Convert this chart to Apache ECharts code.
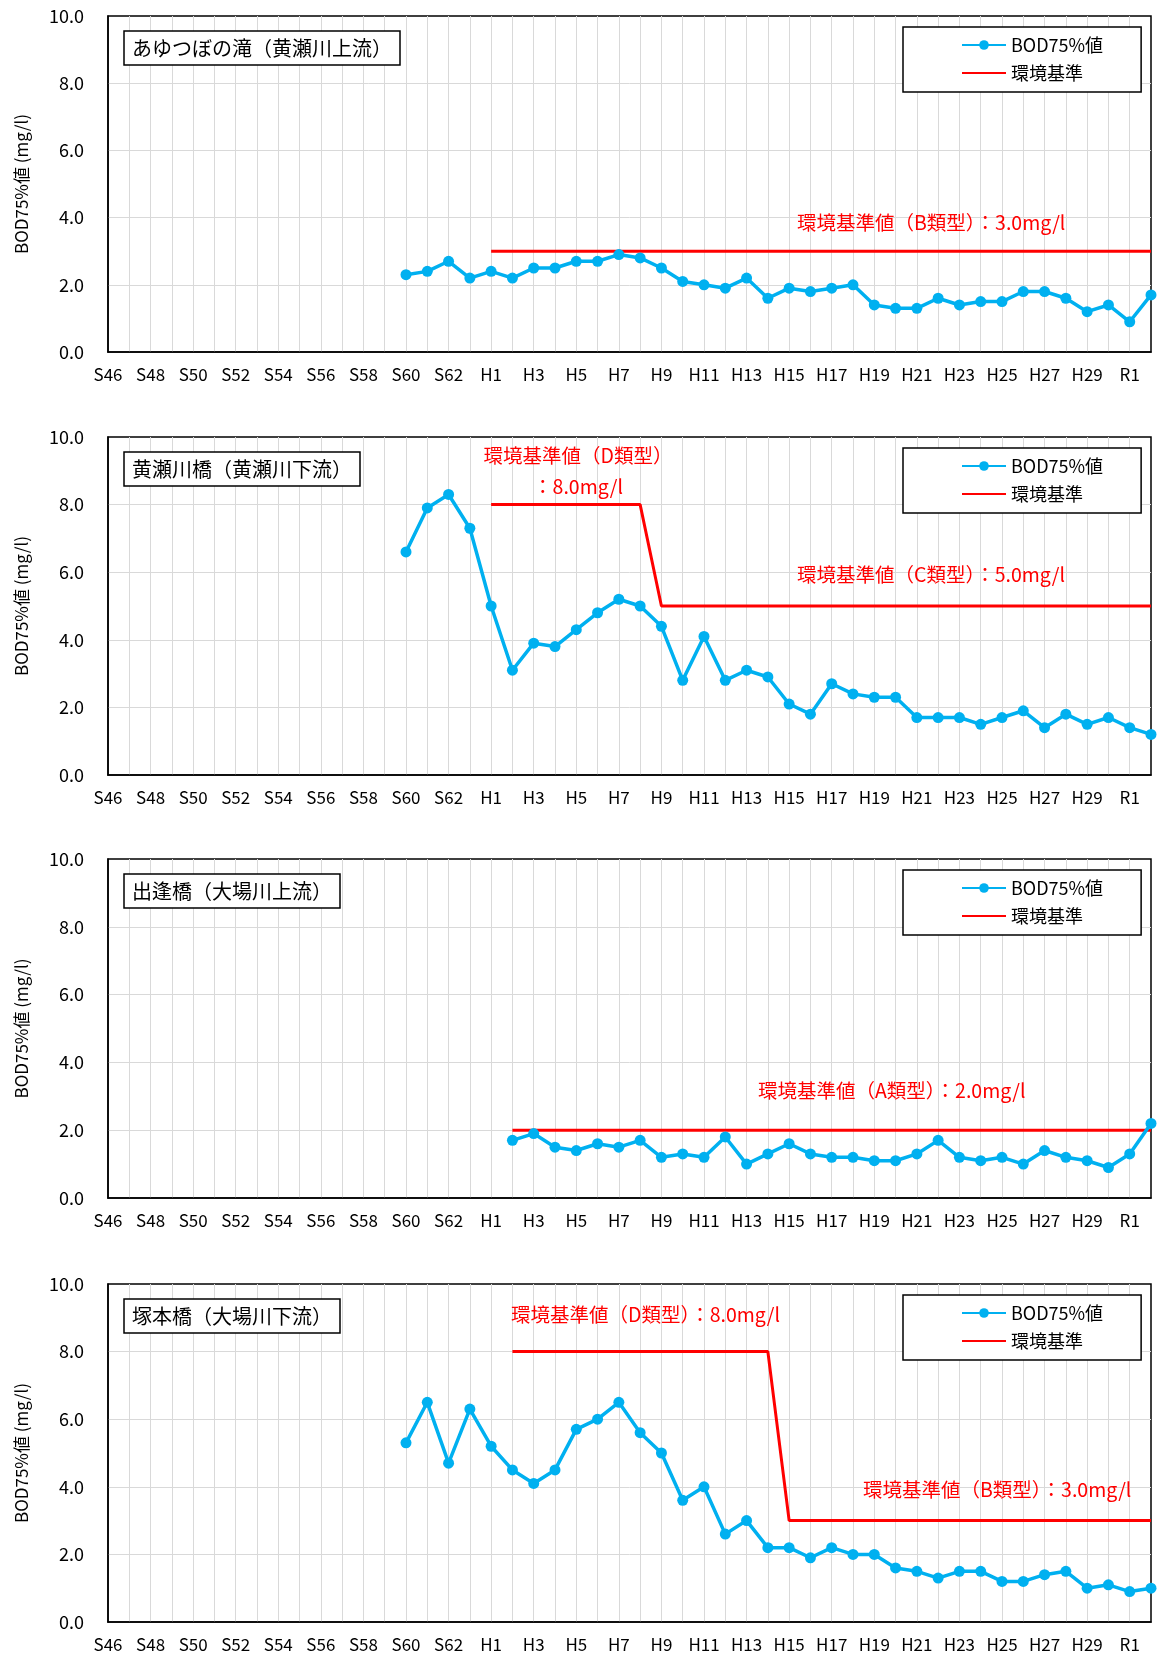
<!DOCTYPE html>
<html>
<head>
<meta charset="utf-8">
<script src="https://cdn.jsdelivr.net/npm/echarts@6/dist/echarts.min.js"></script>
<style>
  html, body { margin: 0; padding: 0; background: #fff; }
  #chart { width: 1157px; height: 1656px; }
</style>
</head>
<body>
<div id="chart"></div>
<script>
// Fiscal-year categories: Showa 46 .. Showa 63, Heisei 1 .. Heisei 30, Reiwa 1 .. Reiwa 2
const categories = [
  'S46','S47','S48','S49','S50','S51','S52','S53','S54','S55',
  'S56','S57','S58','S59','S60','S61','S62','S63',
  'H1','H2','H3','H4','H5','H6','H7','H8','H9','H10',
  'H11','H12','H13','H14','H15','H16','H17','H18','H19','H20',
  'H21','H22','H23','H24','H25','H26','H27','H28','H29','H30',
  'R1','R2'
];
const yTicks = [0, 2, 4, 6, 8, 10];

// Station names
const stationNames = [
  'あゆつぼの滝（黄瀬川上流）',
  '黄瀬川橋（黄瀬川下流）',
  '出逢橋（大場川上流）',
  '塚本橋（大場川下流）'
];

// BOD 75% values (mg/l), each list starting at its first surveyed year
const ayutsuboStart = 'S60';
const ayutsuboBod = [
  2.3, 2.4, 2.7, 2.2,
  2.4, 2.2, 2.5, 2.5, 2.7, 2.7, 2.9, 2.8, 2.5, 2.1,
  2.0, 1.9, 2.2, 1.6, 1.9, 1.8, 1.9, 2.0, 1.4, 1.3,
  1.3, 1.6, 1.4, 1.5, 1.5, 1.8, 1.8, 1.6, 1.2, 1.4,
  0.9, 1.7
];
const kisegawaStart = 'S60';
const kisegawaBod = [
  6.6, 7.9, 8.3, 7.3,
  5.0, 3.1, 3.9, 3.8, 4.3, 4.8, 5.2, 5.0, 4.4, 2.8,
  4.1, 2.8, 3.1, 2.9, 2.1, 1.8, 2.7, 2.4, 2.3, 2.3,
  1.7, 1.7, 1.7, 1.5, 1.7, 1.9, 1.4, 1.8, 1.5, 1.7,
  1.4, 1.2
];
const deaiStart = 'H2';
const deaiBod = [
  1.7, 1.9, 1.5, 1.4, 1.6, 1.5, 1.7, 1.2, 1.3,
  1.2, 1.8, 1.0, 1.3, 1.6, 1.3, 1.2, 1.2, 1.1, 1.1,
  1.3, 1.7, 1.2, 1.1, 1.2, 1.0, 1.4, 1.2, 1.1, 0.9,
  1.3, 2.2
];
const tsukamotoStart = 'S60';
const tsukamotoBod = [
  5.3, 6.5, 4.7, 6.3,
  5.2, 4.5, 4.1, 4.5, 5.7, 6.0, 6.5, 5.6, 5.0, 3.6,
  4.0, 2.6, 3.0, 2.2, 2.2, 1.9, 2.2, 2.0, 2.0, 1.6,
  1.5, 1.3, 1.5, 1.5, 1.2, 1.2, 1.4, 1.5, 1.0, 1.1,
  0.9, 1.0
];

// Environmental standard lines: [year, mg/l] vertices
const ayutsuboStd  = [['H1', 3.0], ['R2', 3.0]];
const kisegawaStd  = [['H1', 8.0], ['H8', 8.0], ['H9', 5.0], ['R2', 5.0]];
const deaiStd      = [['H2', 2.0], ['R2', 2.0]];
const tsukamotoStd = [['H2', 8.0], ['H14', 8.0], ['H15', 3.0], ['R2', 3.0]];

// Standard annotations per panel
const stdNotes = [
  [{ text: '環境基準値（B類型）：3.0mg/l', x: 797, y: 223, align: 'left' }],
  [{ text: '環境基準値（D類型）', x: 578, y: 456, align: 'center' },
   { text: '：8.0mg/l', x: 578, y: 487, align: 'center' },
   { text: '環境基準値（C類型）：5.0mg/l', x: 797, y: 575, align: 'left' }],
  [{ text: '環境基準値（A類型）：2.0mg/l', x: 758, y: 1091, align: 'left' }],
  [{ text: '環境基準値（D類型）：8.0mg/l', x: 511, y: 1315, align: 'left' },
   { text: '環境基準値（B類型）：3.0mg/l', x: 863, y: 1490, align: 'left' }]
];

const seriesName = 'BOD75%値';
const stdName = '環境基準';
const FONT = '"Noto Sans CJK JP", "Noto Sans", sans-serif';

const panels = [
  { start: ayutsuboStart,  bod: ayutsuboBod,  std: ayutsuboStd },
  { start: kisegawaStart,  bod: kisegawaBod,  std: kisegawaStd },
  { start: deaiStart,      bod: deaiBod,      std: deaiStd },
  { start: tsukamotoStart, bod: tsukamotoBod, std: tsukamotoStd }
];

// Plot-area layout
const plotLeft = 108, plotRight = 6;
const plotTops = [16, 437, 859, 1284];
const plotHeights = [336, 338, 339, 338];

const grids = [], xAxes = [], yAxes = [], series = [], legends = [], titles = [], graphics = [];

panels.forEach((p, i) => {
  const top = plotTops[i];
  grids.push({
    left: plotLeft, right: plotRight, top: top, height: plotHeights[i],
    show: true, borderColor: '#000', borderWidth: 1.5, backgroundColor: '#fff'
  });
  xAxes.push({
    type: 'category', gridIndex: i, data: categories, boundaryGap: false,
    axisLine: { show: true, lineStyle: { color: '#000', width: 1.5 } },
    axisTick: { show: false },
    axisLabel: { interval: 1, margin: 14, color: '#000', fontSize: 17, fontFamily: FONT },
    splitLine: {
      show: true,
      interval: (idx) => idx > 0 && idx < categories.length - 1,
      lineStyle: { color: '#D9D9D9', width: 1 }
    }
  });
  yAxes.push({
    type: 'value', gridIndex: i, min: yTicks[0], max: yTicks[yTicks.length - 1], interval: 2,
    name: 'BOD75%値 (mg/l)', nameLocation: 'middle', nameGap: 78, nameRotate: 90,
    nameTextStyle: { color: '#000', fontSize: 17, fontFamily: FONT },
    axisLine: { show: true, lineStyle: { color: '#000', width: 1.5 } },
    axisTick: { show: false },
    axisLabel: { margin: 24, color: '#000', fontSize: 18, fontFamily: FONT,
      formatter: (v) => v.toFixed(1) },
    splitLine: { show: true, showMinLine: false, showMaxLine: false,
      lineStyle: { color: '#D9D9D9', width: 1 } }
  });
  const startIdx = categories.indexOf(p.start);
  series.push({
    type: 'line', name: stdName, xAxisIndex: i, yAxisIndex: i,
    data: p.std, symbol: 'none', silent: true, z: 2,
    lineStyle: { color: '#FF0000', width: 3 }, itemStyle: { color: '#FF0000' }
  });
  series.push({
    type: 'line', name: seriesName, xAxisIndex: i, yAxisIndex: i,
    data: p.bod.map((v, k) => [categories[startIdx + k], v]),
    symbol: 'circle', symbolSize: 11, z: 3,
    lineStyle: { color: '#00B0F0', width: 3.5 }, itemStyle: { color: '#00B0F0' }
  });
  legends.push({
    data: [
      { name: seriesName },
      { name: stdName, itemStyle: { opacity: 0 } }
    ],
    orient: 'vertical',
    left: 903, top: top + 11,
    padding: [8, 38, 9, 58], itemWidth: 44, itemHeight: 12, itemGap: 8,
    borderColor: '#000', borderWidth: 1.5, backgroundColor: '#fff',
    textStyle: { color: '#000', fontSize: 18, lineHeight: 20, fontFamily: FONT }
  });
  titles.push({
    text: stationNames[i], left: 124, top: top + 15,
    padding: [6, 8, 6, 8], borderColor: '#000', borderWidth: 1.5, backgroundColor: '#fff',
    textStyle: { color: '#000', fontSize: 20, fontWeight: 'normal', lineHeight: 22, fontFamily: FONT }
  });
  stdNotes[i].forEach((n) => {
    graphics.push({
      type: 'text', x: n.x, y: n.y, z: 10,
      style: { text: n.text, fill: '#FF0000', font: '19.5px ' + FONT,
        align: n.align, verticalAlign: 'middle' }
    });
  });
});

const chart = echarts.init(document.getElementById('chart'), null, { renderer: 'canvas' });
chart.setOption({
  animation: false,
  backgroundColor: '#fff',
  textStyle: { fontFamily: FONT },
  title: titles,
  legend: legends,
  grid: grids,
  xAxis: xAxes,
  yAxis: yAxes,
  series: series,
  graphic: graphics
});
</script>
</body>
</html>
